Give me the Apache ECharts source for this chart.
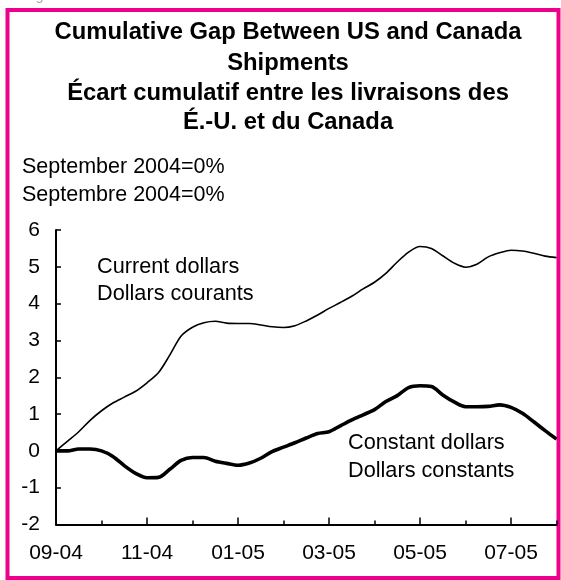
<!DOCTYPE html>
<html>
<head>
<meta charset="utf-8">
<script src="https://cdn.jsdelivr.net/npm/echarts@6/dist/echarts.min.js"></script>
<style>
html,body{margin:0;padding:0;background:#fff;}
#chart{width:561px;height:580px;}
</style>
</head>
<body>
<div id="chart"></div>
<script>
// Month tick labels (every month on the axis; labels shown every 2 months)
const monthLabels = ["09-04","10-04","11-04","12-04","01-05","02-05","03-05","04-05","05-05","06-05","07-05","08-05"];
// Weekly observation points (4 per month), 45 points from 09-04 to 08-05
const weekCats = [];
monthLabels.forEach(function(m){ ["","w2","w3","w4"].forEach(function(w){ weekCats.push(w ? m + " " + w : m); }); });
const categories = weekCats.slice(0, 45);

// Cumulative gap, current dollars (%)
const currentDollars = [0,0.26,0.52,0.83,1.09,1.3,1.46,1.62,1.85,2.12,2.6,3.12,3.36,3.48,3.52,3.47,3.46,3.46,3.42,3.37,3.35,3.4,3.53,3.69,3.87,4.03,4.2,4.4,4.58,4.82,5.13,5.4,5.55,5.5,5.3,5.1,4.99,5.07,5.27,5.38,5.45,5.43,5.37,5.29,5.25];
// Cumulative gap, constant dollars (%)
const constantDollars = [0,0,0.05,0.05,0,-0.15,-0.4,-0.61,-0.73,-0.72,-0.5,-0.26,-0.18,-0.18,-0.28,-0.34,-0.39,-0.33,-0.2,-0.02,0.1,0.22,0.35,0.47,0.52,0.68,0.84,0.98,1.12,1.34,1.5,1.72,1.77,1.75,1.52,1.33,1.2,1.2,1.21,1.25,1.18,1.02,0.79,0.55,0.32];

const titleLines = ["Cumulative Gap Between US and Canada","Shipments","Écart cumulatif entre les livraisons des","É.-U. et du Canada"];
const noteLines = ["September 2004=0%","Septembre 2004=0%"];

const FONT = "'Liberation Sans', Arial, Helvetica, sans-serif";
const chart = echarts.init(document.getElementById('chart'), null, {renderer:'canvas'});

const graphics = [
  {type:'rect', shape:{x:7.5,y:10,width:551,height:568}, style:{fill:'none', stroke:'#EC008C', lineWidth:4}, silent:true},
  {type:'text', x:24, y:3, style:{text:'Figure 3', fill:'#aaa', font:'14px ' + FONT, textVerticalAlign:'bottom'}, silent:true}
];
const titleY = [32, 63, 93, 122];
titleLines.forEach(function(t,i){
  graphics.push({type:'text', x:288, y:titleY[i], style:{text:t, fill:'#000', font:'bold 23.8px ' + FONT, textAlign:'center', textVerticalAlign:'middle'}});
});
const noteY = [167, 195];
noteLines.forEach(function(t,i){
  graphics.push({type:'text', x:22, y:noteY[i], style:{text:t, fill:'#000', font:'21.5px ' + FONT, textAlign:'left', textVerticalAlign:'middle'}});
});
[["Current dollars",97,267],["Dollars courants",97,294],["Constant dollars",348,443],["Dollars constants",348,471]].forEach(function(a){
  graphics.push({type:'text', x:a[1], y:a[2], style:{text:a[0], fill:'#000', font:'21.7px ' + FONT, textAlign:'left', textVerticalAlign:'middle'}});
});

chart.setOption({
  animation:false,
  backgroundColor:'#fff',
  grid:{left:56, right:4.5, top:230, bottom:55.5, containLabel:false},
  xAxis:[{
    type:'category', data:categories, boundaryGap:false, position:'bottom',
    axisLine:{onZero:false, lineStyle:{color:'#000', width:2}},
    axisTick:{inside:true, length:4, interval:function(i){return i%4===0;}, lineStyle:{color:'#000', width:1.5}},
    axisLabel:{interval:function(i){return i%8===0;}, formatter:function(v){return v.slice(0,5);}, color:'#000', fontSize:21, fontFamily:FONT, margin:18},
    splitLine:{show:false}
  },{
    type:'category', data:categories, boundaryGap:false, position:'bottom', gridIndex:0,
    axisLine:{show:false, onZero:false},
    axisTick:{inside:true, length:7, interval:function(i){return i%8===0;}, lineStyle:{color:'#000', width:1.5}},
    axisLabel:{show:false},
    splitLine:{show:false}
  }],
  yAxis:{
    type:'value', min:-2, max:6, interval:1,
    axisLine:{show:true, lineStyle:{color:'#000', width:2}},
    axisTick:{show:true, inside:true, length:5, lineStyle:{color:'#000', width:1.5}},
    axisLabel:{color:'#000', fontSize:21, fontFamily:FONT, margin:16},
    splitLine:{show:false}
  },
  series:[
    {name:'Current dollars', type:'line', data:currentDollars, xAxisIndex:0, symbol:'none', smooth:0.3, lineStyle:{color:'#000', width:1.6}, z:3},
    {name:'Constant dollars', type:'line', data:constantDollars, xAxisIndex:0, symbol:'none', smooth:0.3, lineStyle:{color:'#000', width:3.6}, z:3}
  ],
  graphic:graphics
});
</script>
</body>
</html>
